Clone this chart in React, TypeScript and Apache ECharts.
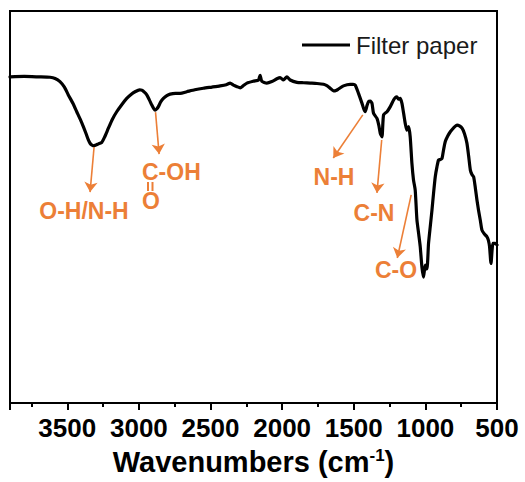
import React, { useEffect, useRef } from "react";
import * as echarts from "echarts";

// FTIR spectrum of filter paper: wavenumber (cm-1) and transmittance (a.u.)
const wavenumbers = [
  3900, 3800, 3700, 3620, 3585, 3551, 3520, 3493, 3460, 3434, 3410, 3388, 3370, 3353, 3340, 3329,
  3318, 3300, 3283, 3259, 3240, 3213, 3185, 3155, 3120, 3085, 3055, 3027, 2995, 2980, 2962, 2945,
  2928, 2910, 2895, 2887, 2876, 2864, 2848, 2829, 2805, 2782, 2745, 2712, 2666, 2610, 2550, 2490,
  2433, 2390, 2363, 2340, 2315, 2293, 2270, 2246, 2200, 2165, 2154, 2142, 2107, 2072, 2037, 2014,
  1991, 1967, 1944, 1897, 1850, 1804, 1757, 1711, 1685, 1665, 1641, 1620, 1607, 1572, 1525, 1505,
  1490, 1467, 1443, 1430, 1420, 1408, 1397, 1385, 1373, 1362, 1338, 1325, 1315, 1303, 1292, 1268,
  1245, 1222, 1210, 1199, 1188, 1176, 1164, 1152, 1141, 1129, 1117, 1106, 1094, 1083, 1071, 1059,
  1047, 1036, 1024, 1013, 1001, 989, 978, 966, 954, 943, 931, 919, 908, 896, 884, 873,
  861, 844, 826, 803, 779, 762, 744, 727, 710, 698, 686, 675, 663, 651, 640, 629,
  616, 605, 588, 570, 560, 552, 542, 528, 512, 500,
];
const transmittance = [
  83.2, 83.3, 83.2, 83.1, 82.8, 82.0, 80.6, 78.6, 76.4, 74.3, 72.4, 70.5, 68.8, 67.1, 66.2, 65.8,
  65.6, 65.8, 66.1, 66.5, 67.8, 70.1, 72.4, 74.3, 76.1, 77.7, 78.7, 79.4, 79.9, 79.8, 79.3, 78.6,
  77.4, 76.0, 75.0, 74.7, 75.0, 75.6, 76.8, 77.7, 78.4, 78.8, 79.0, 79.0, 79.4, 79.9, 80.3, 80.6,
  80.9, 81.2, 81.6, 81.1, 80.7, 80.4, 81.0, 81.6, 82.1, 82.4, 83.6, 82.1, 81.6, 82.0, 82.7, 83.0,
  82.4, 83.2, 82.4, 81.8, 81.7, 81.6, 81.5, 81.3, 80.9, 80.3, 79.6, 79.8, 80.1, 80.9, 81.3, 81.3,
  81.1, 79.0, 76.5, 75.0, 74.3, 75.8, 76.9, 77.0, 76.5, 73.9, 72.6, 70.8, 68.8, 67.9, 73.5, 74.3,
  75.6, 77.3, 77.9, 78.1, 77.5, 77.7, 76.5, 73.9, 71.4, 69.6, 70.5, 67.9, 61.1, 56.9, 54.3, 46.7,
  43.2, 39.9, 34.6, 32.1, 35.2, 34.2, 40.7, 45.0, 49.2, 53.5, 57.7, 60.3, 62.0, 62.1, 62.4, 64.6,
  66.7, 68.1, 69.2, 70.2, 70.9, 70.7, 70.1, 68.7, 66.3, 63.0, 59.4, 58.3, 57.7, 54.8, 51.8, 49.2,
  46.5, 44.1, 43.1, 42.4, 41.5, 39.9, 35.6, 40.7, 40.7, 40.3,
];

// Band assignments: arrow start on the spectrum and arrow tip (wavenumber, transmittance)
const bandNames = ["O-H/N-H", "C-OH", "N-H", "C-N", "C-O"];
const arrowFrom = [
  [3313, 65.3],
  [2884, 74.2],
  [1437, 73.5],
  [1305, 67.1],
  [1099, 53.1],
];
const arrowTo = [
  [3341, 53.8],
  [2859, 63.5],
  [1643, 62.5],
  [1338, 53.6],
  [1196, 37.0],
];

const xTicks = [500, 1000, 1500, 2000, 2500, 3000, 3500];

const ORANGE = "#EC7F37";
const FONT = "'Liberation Sans', Arial, Helvetica, sans-serif";

export default function App() {
  const ref = useRef<HTMLDivElement>(null);

  useEffect(() => {
    document.body.style.margin = "0";
    if (!ref.current) return;
    const chart = echarts.init(ref.current, undefined, { renderer: "svg" });

    const spectrum = wavenumbers.map((w, i) => [w, transmittance[i]]);
    const arrows = bandNames.map((_, i) => [
      { coord: arrowFrom[i], symbol: "none" },
      { coord: arrowTo[i], symbol: "arrow", symbolSize: 10 },
    ]);

    const labelStyle = {
      fill: ORANGE,
      font: `bold 23px ${FONT}`,
      textAlign: "center",
      textVerticalAlign: "middle",
    };

    chart.setOption({
      animation: false,
      color: ["#000"],
      grid: {
        left: 10,
        right: 28,
        top: 11,
        bottom: 79,
        show: true,
        borderColor: "#000",
        borderWidth: 2,
        containLabel: false,
      },
      legend: {
        data: [{ name: "Filter paper", icon: "rect" }],
        left: 302,
        top: 33,
        padding: 0,
        itemWidth: 48,
        itemHeight: 3,
        itemStyle: { color: "#000" },
        textStyle: { fontFamily: FONT, fontSize: 24, color: "#1a1a1a", padding: [0, 0, 0, 1] },
      },
      xAxis: [
        {
          type: "value",
          min: 500,
          max: 3900,
          interval: 500,
          inverse: true,
          position: "bottom",
          name: "Wavenumbers (cm{sup|-1})",
          nameLocation: "middle",
          nameGap: 44,
          nameTextStyle: {
            fontFamily: FONT,
            fontWeight: "bold",
            fontSize: 29,
            color: "#000",
            rich: {
              sup: {
                fontFamily: FONT,
                fontWeight: "bold",
                fontSize: 17,
                color: "#000",
                verticalAlign: "top",
              },
            },
          },
          axisLine: { show: true, lineStyle: { color: "#000", width: 2 } },
          axisTick: { show: true, inside: false, length: 7, lineStyle: { color: "#000", width: 2 } },
          axisLabel: {
            margin: 12,
            fontFamily: FONT,
            fontWeight: "bold",
            fontSize: 26,
            color: "#000",
            formatter: (v: number) => (xTicks.includes(v) ? String(v) : ""),
          },
          splitLine: { show: false },
        },
        {
          type: "value",
          min: 500,
          max: 3900,
          interval: 250,
          inverse: true,
          position: "bottom",
          axisLine: { show: false },
          axisTick: { show: true, inside: false, length: 4, lineStyle: { color: "#000", width: 2 } },
          axisLabel: { show: false },
          splitLine: { show: false },
        },
      ],
      yAxis: {
        type: "value",
        min: 0,
        max: 100,
        axisLine: { show: false },
        axisTick: { show: false },
        axisLabel: { show: false },
        splitLine: { show: false },
      },
      series: [
        {
          name: "Filter paper",
          type: "line",
          xAxisIndex: 0,
          data: spectrum,
          symbol: "none",
          smooth: 0.2,
          itemStyle: { color: "#000" },
          lineStyle: { color: "#000", width: 3.2, cap: "round", join: "round" },
          markLine: {
            silent: true,
            symbol: ["none", "arrow"],
            symbolSize: 10,
            label: { show: false },
            itemStyle: { color: ORANGE },
            lineStyle: { color: ORANGE, width: 1.6, type: "solid", opacity: 1 },
            emphasis: { disabled: true },
            data: arrows,
          },
        },
      ],
      graphic: [
        { type: "text", x: 84, y: 211, style: { ...labelStyle, text: bandNames[0] } },
        { type: "text", x: 142, y: 172, style: { ...labelStyle, textAlign: "left", text: bandNames[1] } },
        { type: "line", shape: { x1: 148, y1: 182, x2: 148, y2: 191 }, style: { stroke: ORANGE, lineWidth: 2 } },
        { type: "line", shape: { x1: 152.5, y1: 182, x2: 152.5, y2: 191 }, style: { stroke: ORANGE, lineWidth: 2 } },
        { type: "text", x: 151, y: 201, style: { ...labelStyle, text: "O" } },
        { type: "text", x: 334, y: 177, style: { ...labelStyle, text: bandNames[2] } },
        { type: "text", x: 374, y: 213, style: { ...labelStyle, text: bandNames[3] } },
        { type: "text", x: 396, y: 270, style: { ...labelStyle, text: bandNames[4] } },
      ],
    });

    return () => chart.dispose();
  }, []);

  return <div ref={ref} style={{ width: 525, height: 482 }} />;
}
